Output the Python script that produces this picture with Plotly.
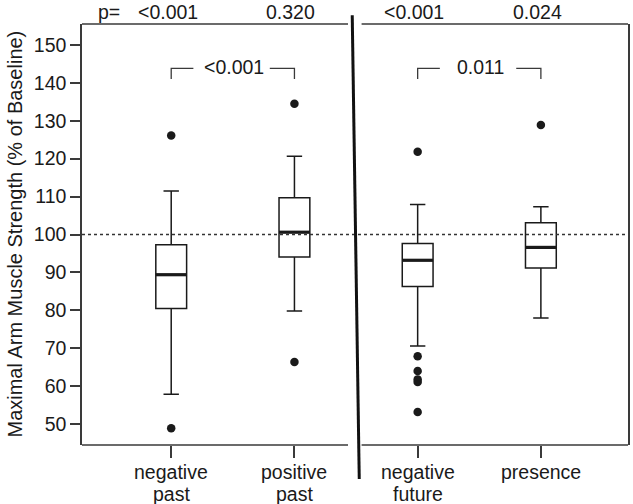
import plotly.graph_objects as go

# ---- data ----
categories = ["negative past", "positive past", "negative future", "presence"]
positions = [0, 1, 2, 3]
q1 = [80.5, 94.1, 86.3, 91.2]
median = [89.4, 100.6, 93.2, 96.6]
q3 = [97.3, 109.7, 97.6, 103.1]
lowerfence = [57.9, 79.8, 70.6, 78.0]
upperfence = [111.5, 120.6, 107.9, 107.3]
outlier_group = [0, 0, 1, 1, 2, 2, 2, 2, 2, 2, 3]
outlier_values = [126.1, 48.9, 134.5, 66.4, 121.8, 67.9, 64.0, 61.8, 61.1, 53.2, 128.9]
p_labels = ["<0.001", "0.320", "<0.001", "0.024"]
pair_labels = ["<0.001", "0.011"]
pairs = [(0, 1), (2, 3)]
baseline = 100
y_ticks = [50, 60, 70, 80, 90, 100, 110, 120, 130, 140, 150]

FONT = "Liberation Sans, Arial, sans-serif"
FS = 19.5
INK = "#1a1a1a"
FRAME = "#3a3a3a"
BOXW = 0.25

fig = go.Figure()

fig.add_trace(go.Box(
    x=positions, q1=q1, median=median, q3=q3,
    lowerfence=lowerfence, upperfence=upperfence,
    width=BOXW, whiskerwidth=0.5,
    fillcolor="white", line=dict(color=INK, width=1.5),
    boxpoints=False, showlegend=False, hoverinfo="skip",
))

# thick median lines
mx, my = [], []
for p, m in zip(positions, median):
    mx += [p - BOXW / 2, p + BOXW / 2, None]
    my += [m, m, None]
fig.add_trace(go.Scatter(x=mx, y=my, mode="lines",
                         line=dict(color=INK, width=3.2),
                         showlegend=False, hoverinfo="skip"))

# outliers
fig.add_trace(go.Scatter(
    x=[positions[g] for g in outlier_group], y=outlier_values,
    mode="markers", marker=dict(color=INK, size=8.5),
    showlegend=False, hoverinfo="skip"))

shapes = []
# baseline dotted line
shapes.append(dict(type="line", xref="paper", yref="y", x0=0, x1=1,
                   y0=baseline, y1=baseline,
                   line=dict(color="#333333", width=1.5, dash="dot")))
# frame top / bottom with gap at divider
for yy in (0, 1):
    shapes.append(dict(type="line", xref="x", yref="paper", x0=-0.724, x1=1.435,
                       y0=yy, y1=yy, line=dict(color=FRAME, width=1.5)))
    shapes.append(dict(type="line", xref="x", yref="paper", x0=1.545, x1=3.707,
                       y0=yy, y1=yy, line=dict(color=FRAME, width=1.5)))
# divider (slightly slanted)
shapes.append(dict(type="line", xref="x", yref="paper", x0=1.469, x1=1.526,
                   y0=1.021, y1=-0.081, line=dict(color="#111111", width=3)))

# significance brackets
bracket_y = 143.8
bracket_drop = 141.0
annotations = []
for (a, b), lab in zip(pairs, pair_labels):
    xa, xb = positions[a], positions[b]
    shapes.append(dict(type="path", xref="x", yref="y",
                       path=f"M {xa},{bracket_drop} L {xa},{bracket_y} L {xa+0.18},{bracket_y}",
                       line=dict(color=FRAME, width=1.3)))
    shapes.append(dict(type="path", xref="x", yref="y",
                       path=f"M {xb-0.2},{bracket_y} L {xb},{bracket_y} L {xb},{bracket_drop}",
                       line=dict(color=FRAME, width=1.3)))
    annotations.append(dict(x=(xa + xb) / 2 + 0.01, y=bracket_y + 0.3, xref="x", yref="y",
                            text=lab, showarrow=False, yanchor="middle",
                            font=dict(family=FONT, size=FS, color=INK)))

# p-values on top
annotations.append(dict(x=-0.505, y=1.028, xref="x", yref="paper", text="p=",
                        showarrow=False, yanchor="middle",
                        font=dict(family=FONT, size=FS, color=INK)))
for p, lab in zip(positions, p_labels):
    annotations.append(dict(x=p - 0.03, y=1.028, xref="x", yref="paper", text=lab,
                            showarrow=False, yanchor="middle",
                            font=dict(family=FONT, size=FS, color=INK)))

# category labels (two lines, tight spacing)
for p, lab in zip(positions, categories):
    lines = lab.split(" ")
    for k, line in enumerate(lines):
        annotations.append(dict(x=p, y=-0.064 - 0.0525 * k, xref="x", yref="paper",
                                text=line, showarrow=False, yanchor="middle",
                                font=dict(family=FONT, size=FS, color=INK)))

# y title
annotations.append(dict(x=-0.1245, y=0.5, xref="paper", yref="paper",
                        text="Maximal Arm Muscle Strength (% of Baseline)",
                        textangle=-90, showarrow=False,
                        xanchor="center", yanchor="middle",
                        font=dict(family=FONT, size=20, color=INK)))

fig.update_layout(
    template="none",
    width=633, height=504,
    margin=dict(l=82, r=5, t=24, b=59, autoexpand=False),
    paper_bgcolor="white", plot_bgcolor="white",
    font=dict(family=FONT, size=FS, color=INK),
    shapes=shapes, annotations=annotations,
    hovermode=False,
    xaxis=dict(range=[-0.724, 3.707], tickvals=positions, ticktext=[""] * 4,
               showgrid=False, zeroline=False, showline=False, automargin=False,
               ticks="outside", ticklen=12, tickwidth=1.5, tickcolor=FRAME),
    yaxis=dict(range=[44.5, 155.5], tickvals=y_ticks, automargin=False,
               showgrid=False, zeroline=False, showline=True, mirror=True,
               linecolor=FRAME, linewidth=1.5,
               ticks="outside", ticklen=10, tickwidth=1.5, tickcolor=FRAME,
               tickfont=dict(family=FONT, size=FS, color=INK)),
)

fig.write_html("out.html",
               config={"displayModeBar": False},
               post_script="document.body.style.margin='0';document.body.style.overflow='hidden';")
